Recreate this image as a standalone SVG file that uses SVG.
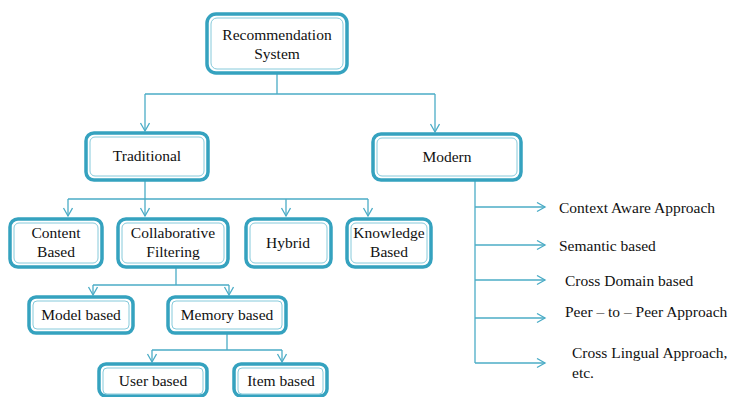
<svg xmlns="http://www.w3.org/2000/svg" width="729" height="397" viewBox="0 0 729 397">
<style>
.box{fill:#fff;stroke:#35a2bf;stroke-width:3.5}
.inner{fill:none;stroke:#86cadb;stroke-width:1}
.t{font-family:'Liberation Serif','Times New Roman',Tinos,'DejaVu Serif',serif;font-size:15.5px;fill:#111;text-anchor:middle}
.tl{font-family:'Liberation Serif','Times New Roman',Tinos,'DejaVu Serif',serif;font-size:15.5px;fill:#111}
.c{fill:none;stroke:#4bacc6;stroke-width:1.3}
</style>
<defs>
<marker id="ar" markerWidth="12" markerHeight="12" refX="9" refY="5" orient="auto" markerUnits="userSpaceOnUse">
<polyline points="1,0.5 9,5 1,9.5" fill="none" stroke="#4bacc6" stroke-width="1.3"/>
</marker>
</defs>
<rect width="729" height="397" fill="#fff"/>
<g id="connectors">
<path class="c" d="M277 73 V94 M145 94 H435"/>
<path class="c" d="M145 94 V131" marker-end="url(#ar)"/>
<path class="c" d="M435 94 V132" marker-end="url(#ar)"/>
<path class="c" d="M145 180 V199 M68 199 H368"/>
<path class="c" d="M68 199 V216" marker-end="url(#ar)"/>
<path class="c" d="M145 199 V216" marker-end="url(#ar)"/>
<path class="c" d="M286 199 V216" marker-end="url(#ar)"/>
<path class="c" d="M368 199 V216" marker-end="url(#ar)"/>
<path class="c" d="M176 268 V285 M93 285 H229"/>
<path class="c" d="M93 285 V295" marker-end="url(#ar)"/>
<path class="c" d="M229 285 V295" marker-end="url(#ar)"/>
<path class="c" d="M227 334 V350 M152 350 H282"/>
<path class="c" d="M152 350 V362" marker-end="url(#ar)"/>
<path class="c" d="M282 350 V362" marker-end="url(#ar)"/>
<path class="c" d="M475 180 V363"/>
<path class="c" d="M475 207 H545" marker-end="url(#ar)"/>
<path class="c" d="M475 245 H545" marker-end="url(#ar)"/>
<path class="c" d="M475 280 H545" marker-end="url(#ar)"/>
<path class="c" d="M475 318 H545" marker-end="url(#ar)"/>
<path class="c" d="M475 363 H545" marker-end="url(#ar)"/>
</g>
<g id="rec">
<rect class="box" x="207" y="14" width="140" height="59" rx="9"/>
<rect class="inner" x="211" y="18" width="132" height="51" rx="6"/>
<text class="t" x="277" y="40">Recommendation</text>
<text class="t" x="277" y="59">System</text>
</g>
<g id="traditional">
<rect class="box" x="86" y="133" width="122" height="47" rx="8"/>
<rect class="inner" x="90" y="137" width="114" height="39" rx="5"/>
<text class="t" x="147" y="161">Traditional</text>
</g>
<g id="modern">
<rect class="box" x="373" y="134" width="148" height="46" rx="8"/>
<rect class="inner" x="377" y="138" width="140" height="38" rx="5"/>
<text class="t" x="447" y="162">Modern</text>
</g>
<g id="content">
<rect class="box" x="10" y="219" width="92" height="48" rx="8"/>
<rect class="inner" x="14" y="223" width="84" height="40" rx="5"/>
<text class="t" x="56" y="238">Content</text>
<text class="t" x="56" y="257">Based</text>
</g>
<g id="collab">
<rect class="box" x="118" y="219" width="110" height="48" rx="8"/>
<rect class="inner" x="122" y="223" width="102" height="40" rx="5"/>
<text class="t" x="173" y="238">Collaborative</text>
<text class="t" x="173" y="257">Filtering</text>
</g>
<g id="hybrid">
<rect class="box" x="246" y="219" width="85" height="48" rx="8"/>
<rect class="inner" x="250" y="223" width="77" height="40" rx="5"/>
<text class="t" x="288" y="248">Hybrid</text>
</g>
<g id="knowledge">
<rect class="box" x="347" y="219" width="84" height="48" rx="8"/>
<rect class="inner" x="351" y="223" width="76" height="40" rx="5"/>
<text class="t" x="389" y="238">Knowledge</text>
<text class="t" x="389" y="257">Based</text>
</g>
<g id="model">
<rect class="box" x="29" y="297" width="104" height="36" rx="7"/>
<rect class="inner" x="33" y="301" width="96" height="28" rx="4"/>
<text class="t" x="81" y="320">Model based</text>
</g>
<g id="memory">
<rect class="box" x="168" y="297" width="118" height="36" rx="7"/>
<rect class="inner" x="172" y="301" width="110" height="28" rx="4"/>
<text class="t" x="227" y="320">Memory based</text>
</g>
<g id="user">
<rect class="box" x="99" y="364" width="108" height="32" rx="7"/>
<rect class="inner" x="103" y="368" width="100" height="26" rx="4"/>
<text class="t" x="153" y="386">User based</text>
</g>
<g id="item">
<rect class="box" x="234" y="364" width="93" height="32" rx="7"/>
<rect class="inner" x="238" y="368" width="85" height="26" rx="4"/>
<text class="t" x="281" y="386">Item based</text>
</g>
<g id="modern-items">
<text class="tl" x="559" y="213">Context Aware Approach</text>
<text class="tl" x="559" y="251">Semantic based</text>
<text class="tl" x="565" y="286">Cross Domain based</text>
<text class="tl" x="565" y="317">Peer – to – Peer Approach</text>
<text class="tl" x="572" y="358">Cross Lingual Approach,</text>
<text class="tl" x="572" y="378">etc.</text>
</g>
</svg>
